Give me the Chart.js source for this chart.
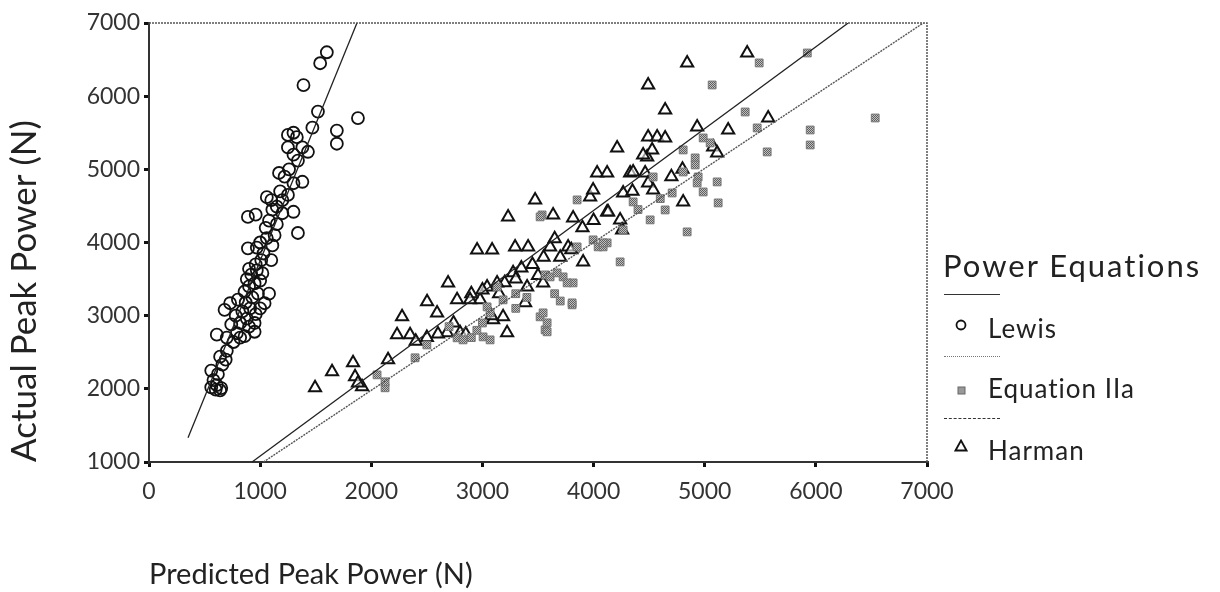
<!DOCTYPE html>
<html>
<head>
<meta charset="utf-8">
<script src="https://cdn.jsdelivr.net/npm/chart.js@4"></script>
<style>
  body { margin: 0; background: #fff; }
  #wrap { position: relative; width: 1220px; height: 592px; }
  #legend { position: absolute; left: 0; top: 0; font-family: Lato, "Open Sans", sans-serif; color: #222; }
  #legend div { position: absolute; white-space: nowrap; }
  .rule { height: 0; width: 56px; }
  .item { font-size: 26px; letter-spacing: 1px; }
</style>
</head>
<body>
<div id="wrap">
  <canvas id="chart" width="1220" height="592"></canvas>
  <div id="legend">
    <div style="left:943px; top:246px; font-size:31px; letter-spacing:2px;">Power Equations</div>
    <div class="rule" style="left:944px; top:294px; border-top:1.5px solid #333;"></div>
    <div style="left:954px; top:316px;"><svg width="14" height="14"><circle cx="7" cy="7" r="4.5" fill="none" stroke="#111" stroke-width="1.8"/></svg></div>
    <div class="item" style="left:988px; top:312px;">Lewis</div>
    <div class="rule" style="left:944px; top:356px; border-top:1.5px dotted #777;"></div>
    <div style="left:957px; top:380px;"><svg width="10" height="10"><rect x="1" y="1" width="7" height="7" fill="#999" stroke="#666" stroke-width="1"/></svg></div>
    <div class="item" style="left:988px; top:372px;">Equation IIa</div>
    <div class="rule" style="left:944px; top:418px; border-top:1.5px dashed #333;"></div>
    <div style="left:954px; top:436px;"><svg width="14" height="13"><polygon points="7,1.5 12.5,11.5 1.5,11.5" fill="none" stroke="#111" stroke-width="1.8"/></svg></div>
    <div class="item" style="left:988px; top:434px;">Harman</div>
  </div>
</div>
<script>
// Tick values
const xTicks = [0, 1000, 2000, 3000, 4000, 5000, 6000, 7000];
const yTicks = [1000, 2000, 3000, 4000, 5000, 6000, 7000];

// Lewis: [predicted, actual]
const lewis = [
  [560,2020],[600,1990],[640,1980],[610,2050],[650,2010],[580,2120],[620,2200],[560,2250],[660,2330],[690,2400],
  [640,2440],[700,2520],[610,2740],[760,2640],[820,2700],[700,2700],[790,2760],[860,2720],[950,2780],[900,2850],
  [740,2880],[820,2900],[880,2960],[780,3000],[680,3080],[730,3170],[840,3060],[910,3100],[960,3020],[1040,3170],
  [870,3180],[800,3220],[930,3250],[980,3300],[860,3330],[900,3400],[950,3440],[880,3500],[1000,3480],[920,3560],
  [970,3620],[1020,3580],[900,3640],[960,3700],[1010,3760],[1100,3760],[1030,3850],[890,3920],[970,3930],[1110,3960],
  [1000,4000],[1060,4060],[1130,4100],[1340,4130],[1050,4200],[1080,4300],[1150,4250],[890,4350],[960,4380],[1300,4420],
  [1110,4450],[1150,4490],[1060,4620],[1100,4580],[1200,4580],[1180,4700],[1250,4650],[1170,4950],[1220,4900],[1300,4810],
  [1380,4830],[1260,5000],[1340,5120],[1300,5200],[1430,5240],[1380,5300],[1250,5470],[1300,5500],[1330,5440],[1470,5570],
  [1520,5790],[1390,6150],[1540,6450],[1600,6600],[1690,5530],[1690,5350],[1880,5700],[1250,5300],[1200,4400],[1000,3100],
  [950,2900],[1080,3300]
];

// Equation IIa: [predicted, actual]
const eq2a = [
  [2124,2014],[2124,2096],[2052,2191],[2394,2424],[3006,2710],[3069,2669],[3042,3120],[2772,2697],[2826,2669],[3069,3038],
  [3519,2984],[3564,2806],[3807,3148],[3564,3557],[3609,3530],[3726,3530],[3816,3448],[3537,4377],[4041,3940],[4122,3995],
  [4239,3735],[3852,4582],[3132,3393],[3186,3216],[3519,4350],[4086,3940],[3807,3175],[3546,3038],[3582,2902],[3582,2779],
  [3672,3585],[3762,3448],[3852,3940],[3996,4036],[5923,6590],[5490,6454],[5067,6153],[5364,5784],[5472,5566],[5562,5238],
  [4986,5429],[5049,5361],[4806,5265],[4914,5156],[4914,5060],[4806,4964],[4941,4896],[4932,4814],[5112,4828],[4986,4691],
  [5121,4541],[4707,4677],[4644,4445],[4509,4309],[4842,4145],[4356,4555],[4086,3995],[4266,4172],[4536,4896],[6534,5702],
  [5949,5538],[5949,5333],[2900,2700],[2950,2800],[3000,2900],[3300,3100],[3400,3250],[3650,3300],[3700,3200],[3300,3300],
  [2700,2850],[2500,2600],[4400,4450],[4600,4600]
];

// Harman: [predicted, actual]
const harman = [
  [1494,2014],[1647,2232],[1836,2355],[1854,2164],[1917,2027],[1880,2080],[2151,2396],[2232,2738],[2277,2984],[2349,2738],
  [2400,2650],[2502,3189],[2592,3038],[2691,3448],[2772,3216],[2799,2765],[2682,2765],[2740,2900],[2952,3899],[3087,3899],
  [3231,4350],[2979,3216],[3042,3393],[3186,2984],[3222,2765],[3096,2943],[3276,3585],[2900,3300],[3000,3350],[3150,3300],
  [3200,3450],[3300,3500],[3350,3650],[3450,3700],[3500,3550],[4212,5292],[4032,4951],[4122,4951],[3474,4582],[3636,4377],
  [3816,4336],[3294,3940],[3411,3940],[3609,3940],[3771,3940],[3906,3735],[4122,4418],[4239,4309],[3402,3393],[3546,3448],
  [3384,3175],[2889,3216],[3132,3448],[3969,4623],[3996,4719],[4329,4951],[4482,5169],[5382,6590],[4842,6454],[4491,6153],
  [4644,5812],[5211,5538],[5571,5702],[4932,5579],[4491,5443],[4572,5443],[4644,5429],[4527,5265],[4446,5197],[4356,4964],
  [4464,4951],[4491,4814],[4536,4719],[4266,4677],[4806,4555],[4131,4418],[4257,4172],[5076,5306],[5112,5224],[3700,3800],
  [3800,3900],[3650,4050],[3900,4200],[4000,4300],[3550,3800],[2600,2750],[2500,2700],[2850,2750],[3080,3000],[4700,4900],
  [4800,5000],[4350,4700]
];

// Fit lines: endpoints [predicted, actual]
const lewisFit = [[351,1331],[1871,7000]];
const harmanFit = [[927,1000],[6291,7000]];
const eq2aFit = [[1030,1000],[6967,7000]];

const pts = (arr) => arr.map(([x, y]) => ({ x, y }));

// textured gray fill for the Equation IIa markers
function grayPattern() {
  const c = document.createElement("canvas");
  c.width = 2; c.height = 2;
  const g = c.getContext("2d");
  g.fillStyle = "#c0c0c0"; g.fillRect(0, 0, 2, 2);
  g.fillStyle = "#5e5e5e"; g.fillRect(0, 0, 1, 1); g.fillRect(1, 1, 1, 1);
  return g.createPattern(c, "repeat");
}

// top & right frame of the plot box
const frame = {
  id: "frame",
  afterDraw(chart) {
    const { ctx, chartArea: a } = chart;
    ctx.save();
    ctx.strokeStyle = "#555";
    ctx.lineWidth = 1.5;
    ctx.setLineDash([2, 1]);
    ctx.beginPath();
    ctx.moveTo(a.left, a.top);
    ctx.lineTo(a.right, a.top);
    ctx.lineTo(a.right, a.bottom);
    ctx.stroke();
    ctx.restore();
  },
};

const font = "Lato, 'Open Sans', sans-serif";
const plain = (v) => String(v);

new Chart(document.getElementById("chart"), {
  type: "scatter",
  data: {
    datasets: [
      { label: "Lewis fit", data: pts(lewisFit), showLine: true, borderColor: "#222", borderWidth: 1.3, pointRadius: 0 },
      { label: "Equation IIa fit", data: pts(eq2aFit), showLine: true, borderColor: "#555", borderWidth: 1.4, borderDash: [2, 1], pointRadius: 0 },
      { label: "Harman fit", data: pts(harmanFit), showLine: true, borderColor: "#222", borderWidth: 1.3, pointRadius: 0 },
      { label: "Equation IIa", data: pts(eq2a), pointStyle: "rect", pointRadius: 5.5, backgroundColor: grayPattern(), borderColor: "#777", borderWidth: 1 },
      { label: "Harman", data: pts(harman), pointStyle: "triangle", pointRadius: 7, backgroundColor: "rgba(255,255,255,0.6)", borderColor: "#111", borderWidth: 2 },
      { label: "Lewis", data: pts(lewis), pointStyle: "circle", pointRadius: 6, backgroundColor: "rgba(255,255,255,0)", borderColor: "#111", borderWidth: 1.8 },
    ],
  },
  options: {
    responsive: false,
    animation: false,
    layout: { padding: { left: 0, top: 23, right: 293, bottom: 0 } },
    plugins: { legend: { display: false }, tooltip: { enabled: false } },
    scales: {
      x: {
        type: "linear",
        min: 0, max: 7000,
        afterBuildTicks: (s) => { s.ticks = xTicks.map((v) => ({ value: v })); },
        afterFit: (s) => { s.height = 130; },
        border: { color: "#333", width: 2 },
        grid: { drawOnChartArea: false, tickLength: 5, color: "#111", lineWidth: 3 },
        ticks: { color: "#333", font: { family: font, size: 23 }, padding: 11, callback: plain },
        title: { display: true, text: "Predicted Peak Power (N)", align: "start", color: "#222", font: { family: font, size: 29 }, padding: { bottom: 0 } },
      },
      y: {
        type: "linear",
        min: 1000, max: 7000,
        afterBuildTicks: (s) => { s.ticks = yTicks.map((v) => ({ value: v })); },
        afterFit: (s) => { s.width = 149; },
        border: { color: "#333", width: 2 },
        grid: { drawOnChartArea: false, tickLength: 5, color: "#111", lineWidth: 3 },
        ticks: { color: "#333", font: { family: font, size: 23 }, padding: 4, callback: plain },
        title: { display: true, text: "Actual Peak Power (N)", align: "start", color: "#222", font: { family: font, size: 35 }, padding: { top: 4 } },
      },
    },
  },
  plugins: [frame],
});
</script>
</body>
</html>
